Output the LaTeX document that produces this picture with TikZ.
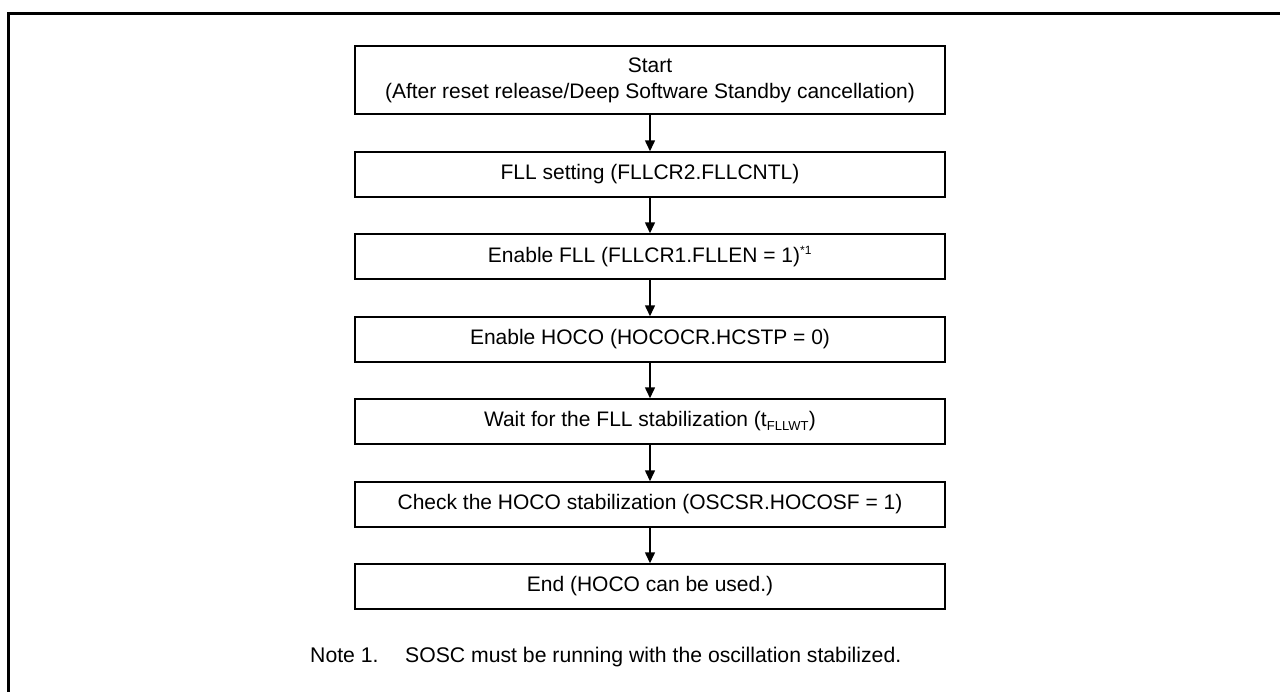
\documentclass[tikz,border=0pt]{standalone}
\usepackage{fontspec}
\setmainfont{Liberation Sans}
\usetikzlibrary{arrows.meta}
\begin{document}
\begin{tikzpicture}[x=1pt,y=-1pt,
  stepbox/.style={draw, line width=1.5pt, minimum width=590pt, minimum height=45pt, inner sep=0pt, align=center, font=\fontsize{21}{26}\selectfont},
  arr/.style={line width=1.5pt, -{Triangle[length=11pt,width=10pt]}},
  notetext/.style={anchor=base west, inner sep=0pt, font=\fontsize{21.2}{26}\selectfont}]
\useasboundingbox (0,0) rectangle (1280,691);
\draw[line width=3pt] (8.5,700) -- (8.5,13.5) -- (1290,13.5);
\node[stepbox, minimum height=68pt] (s1) at (650,80) {Start\\(After reset release/Deep Software Standby cancellation)};
\node[stepbox] (s2) at (650,174.5) {FLL setting (FLLCR2.FLLCNTL)};
\node[stepbox] (s3) at (650,256.5) {Enable FLL (FLLCR1.FLLEN = 1)\textsuperscript{\fontsize{12}{12}\selectfont *1}};
\node[stepbox] (s4) at (650,339.5) {Enable HOCO (HOCOCR.HCSTP = 0)};
\node[stepbox] (s5) at (650,421.5) {Wait for the FLL stabilization (t\textsubscript{\fontsize{13}{13}\selectfont FLLWT})};
\node[stepbox] (s6) at (650,504.5) {Check the HOCO stabilization (OSCSR.HOCOSF = 1)};
\node[stepbox] (s7) at (650,586.5) {End (HOCO can be used.)};
\foreach \a/\b in {s1/s2,s2/s3,s3/s4,s4/s5,s5/s6,s6/s7}
  \draw[arr] (\a.south) -- (\b.north);
\node[notetext] (n1) at (310,662) {Note 1.};
\node[notetext] (n2) at (405,662) {SOSC must be running with the oscillation stabilized.};
\end{tikzpicture}
\end{document}
